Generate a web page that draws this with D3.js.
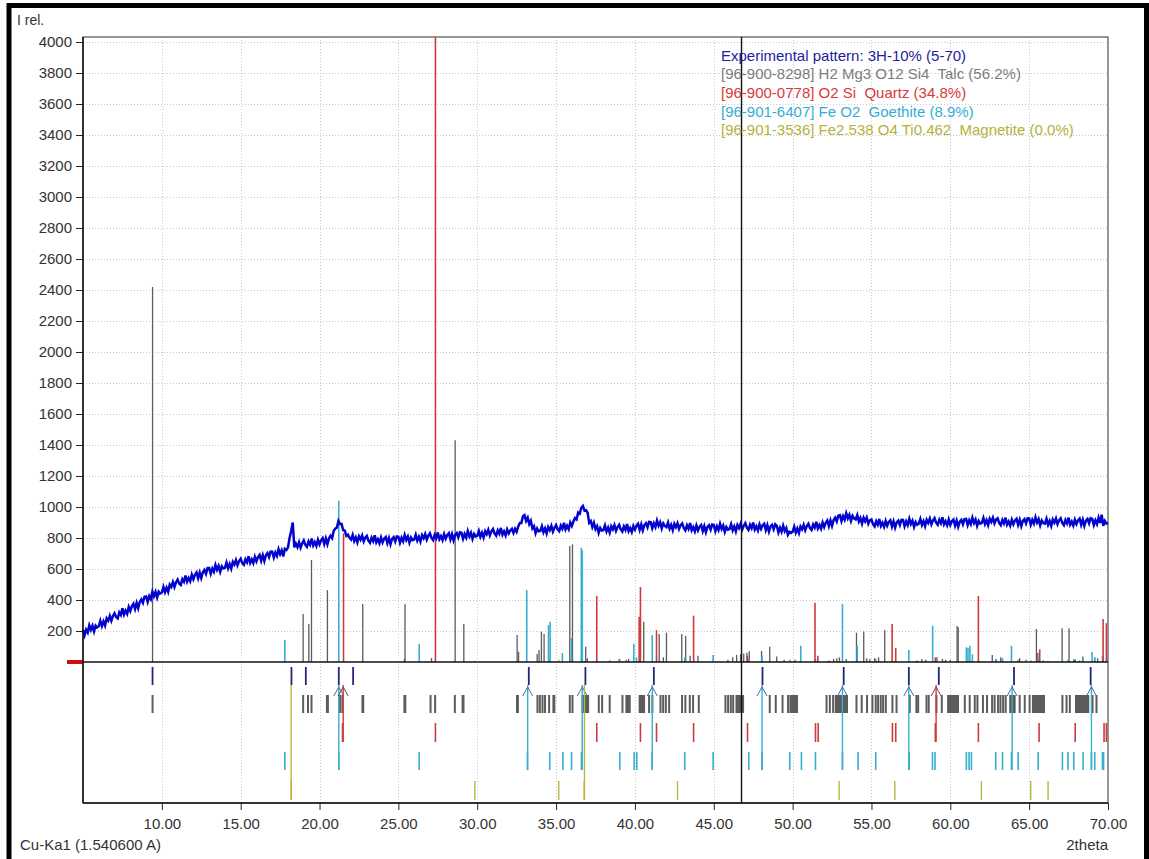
<!DOCTYPE html>
<html>
<head>
<meta charset="utf-8">
<script src="https://d3js.org/d3.v7.min.js"></script>
<style>
body { margin: 0; background: #fff; }
svg text { font-family: "Liberation Sans", Arial, sans-serif; }
</style>
</head>
<body>
<svg id="chart" width="1149" height="859"></svg>
<script>
// experimental pattern, 5.0 .. 70.0 deg 2theta, 0.1 deg step
const expStart = 5.0;
const expStep = 0.1;
const expIntensity = [
208,173,209,190,236,207,234,198,235,223,
230,266,232,262,235,281,266,298,266,296,
314,290,281,320,303,346,306,332,311,355,
329,359,376,342,381,347,387,404,382,421,
423,388,425,406,453,424,452,416,454,442,
448,484,450,480,453,499,484,516,484,514,
532,506,497,534,517,558,518,542,521,563,
534,562,577,540,577,541,579,594,569,606,
606,569,603,582,626,595,620,582,617,603,
607,641,604,632,602,646,629,658,624,651,
666,638,627,662,643,682,639,662,638,679,
650,677,691,653,689,652,689,703,677,713,
712,674,707,685,728,696,720,681,730,723,
740,800,845,900,740,764,741,773,738,766,
784,756,743,778,757,796,752,774,749,789,
759,785,799,761,797,760,798,814,799,847,
860,868,910,890,890,850,848,813,821,801,
790,820,780,804,771,811,790,816,778,802,
813,783,769,802,780,817,772,792,766,804,
772,796,807,767,800,760,794,805,777,810,
808,769,801,778,820,787,810,770,803,786,
790,821,783,808,777,818,799,826,790,815,
830,800,787,820,799,836,792,812,787,825,
795,819,831,791,825,785,820,831,804,837,
834,795,826,803,845,811,834,794,826,810,
814,846,808,834,803,844,825,853,817,843,
858,829,815,849,828,865,821,842,816,855,
830,849,859,832,859,840,875,897,897,940,
948,910,931,890,911,862,876,831,861,843,
845,876,837,862,830,871,851,878,841,866,
884,856,844,879,859,898,856,879,857,900,
878,906,929,920,964,957,995,1007,977,980,
963,898,909,870,898,857,876,833,865,848,
850,881,842,867,835,876,856,883,846,871,
886,856,842,875,853,890,845,865,839,877,
854,879,892,853,888,849,884,896,869,904,
903,863,895,871,913,879,902,862,894,878,
870,900,860,884,851,891,870,896,859,883,
894,864,849,882,859,896,850,870,843,881,
849,873,884,844,877,837,871,882,854,887,
884,844,875,851,892,858,880,839,871,854,
858,889,850,875,843,884,864,891,854,879,
896,866,852,885,863,900,855,875,849,887,
859,882,892,851,883,842,875,885,856,888,
878,836,866,840,879,844,864,821,840,833,
840,873,835,862,832,874,856,885,850,877,
892,864,852,887,867,905,862,884,860,900,
871,898,913,877,914,878,916,931,907,944,
948,909,941,918,960,927,950,910,943,926,
920,948,906,928,893,931,908,932,892,914,
919,889,875,908,886,923,878,898,872,910,
879,903,914,874,907,867,901,912,884,917,
916,876,907,883,924,890,912,871,903,886,
892,923,884,909,877,918,898,925,888,913,
929,899,885,918,896,933,888,908,882,920,
884,908,919,879,912,872,906,917,889,922,
923,883,914,890,931,897,919,878,910,893,
898,929,890,915,883,924,904,931,894,919,
927,897,883,916,894,931,886,906,880,918,
889,913,924,884,917,877,911,922,894,927,
926,886,917,893,934,900,922,881,913,896,
893,924,885,910,878,919,899,926,889,914,
927,897,883,916,894,931,886,906,880,918,
890,914,925,885,918,878,912,923,895,928,
923,883,914,890,931,897,950,878,910,893,
895
];

// reference patterns: stick positions (deg 2theta) and heights
const talcPos = [9.41, 18.96, 19.32, 19.49, 20.5, 22.74, 25.38, 25.42, 27.1, 28.6, 29.15, 32.53, 32.62, 33.8, 33.92, 34.07, 34.24, 35.87, 36.04, 36.88, 36.98, 38.4, 39.0, 39.45, 39.6, 40.56, 41.54, 41.8, 42.0, 42.97, 43.22, 43.5, 44.0, 45.9, 46.2, 46.45, 46.7, 46.9, 47.1, 47.25, 48.03, 48.55, 48.99, 49.46, 50.15, 52.3, 52.6, 52.8, 52.97, 53.4, 54.05, 54.51, 54.7, 54.9, 55.2, 55.45, 55.84, 57.9, 58.2, 58.45, 59.15, 59.5, 59.7, 60.0, 60.43, 60.5, 62.66, 62.9, 63.2, 63.3, 64.4, 64.8, 65.1, 65.46, 65.55, 65.9, 67.09, 67.53, 67.9, 68.2, 68.4, 69.15, 69.35];
const talcInt = [2420, 310, 245, 658, 464, 374, 20, 374, 26, 1430, 245, 174, 66, 52, 77, 196, 180, 748, 759, 99, 25, 10, 19, 15, 20, 260, 180, 30, 189, 180, 168, 40, 40, 15, 30, 45, 50, 55, 60, 70, 71, 99, 35, 15, 15, 10, 20, 25, 30, 20, 189, 196, 25, 20, 25, 30, 206, 10, 20, 15, 30, 20, 15, 15, 232, 225, 45, 20, 30, 20, 25, 15, 10, 213, 60, 10, 217, 217, 15, 10, 35, 30, 25];

const quartzPos = [21.52, 27.35, 37.58, 40.27, 40.35, 41.37, 43.72, 47.14, 51.42, 51.6, 56.31, 56.54, 59.05, 61.78, 65.67, 67.92, 69.69, 69.9];
const quartzInt = [830, 4100, 426, 292, 484, 206, 299, 40, 383, 40, 245, 90, 30, 426, 82, 15, 277, 251];

const goethitePos = [17.8, 21.22, 26.32, 33.14, 34.52, 34.62, 35.4, 35.97, 36.6, 36.66, 39.04, 39.93, 40.1, 41.1, 43.16, 44.96, 47.22, 48.06, 49.82, 50.52, 51.45, 53.16, 54.1, 55.27, 57.37, 58.88, 61.02, 61.12, 61.24, 61.4, 62.88, 63.31, 63.88, 64.3, 65.57, 67.11, 67.46, 67.83, 68.42, 68.99, 69.16, 69.65];
const goethiteInt = [142, 1040, 116, 464, 238, 260, 58, 155, 737, 720, 20, 116, 30, 174, 30, 45, 20, 40, 15, 105, 20, 374, 105, 20, 77, 234, 95, 90, 105, 50, 20, 25, 105, 15, 20, 15, 15, 20, 25, 65, 30, 40];

const magnetitePos = [18.2, 29.85, 35.17, 36.78, 42.7, 52.95, 56.48, 61.97, 65.1, 66.2];
const magnetiteInt = [8, 8, 14, 8, 8, 8, 8, 8, 8, 8];

// marker rows under the axis
const peakMarks = [9.41, 18.22, 19.13, 21.22, 22.13, 33.27, 36.86, 41.2, 48.09, 53.24, 57.37, 59.27, 64.04, 68.9];
const talcMarks = [9.41, 18.96, 19.27, 19.49, 20.47, 20.53, 21.3, 21.45, 22.72, 22.77, 25.38, 25.44, 27.04, 27.33, 28.58, 29.07, 29.13, 32.52, 32.58, 33.82, 33.97, 34.14, 34.3, 34.56, 34.83, 34.89, 35.87, 36.04, 36.67, 36.72, 36.77, 36.82, 36.87, 36.92, 36.97, 37.03, 37.71, 37.92, 38.4, 39.21, 39.46, 39.53, 39.6, 39.67, 40.3, 40.37, 40.44, 40.51, 40.58, 40.9, 41.11, 41.62, 41.79, 41.96, 42.17, 42.99, 43.2, 43.48, 43.69, 44.05, 45.74, 45.91, 46.08, 46.23, 46.44, 46.51, 46.58, 46.65, 46.72, 46.79, 46.86, 48.55, 48.93, 49.36, 49.71, 49.86, 49.93, 50.0, 50.07, 50.14, 50.21, 50.28, 52.15, 52.36, 52.57, 52.74, 52.81, 52.88, 52.95, 53.02, 53.09, 53.16, 53.23, 53.3, 53.37, 53.45, 54.05, 54.38, 54.72, 55.06, 55.27, 55.42, 55.59, 55.74, 55.91, 56.33, 56.59, 57.43, 57.85, 57.96, 58.49, 58.63, 59.12, 59.46, 59.86, 59.93, 60.0, 60.07, 60.14, 60.21, 60.28, 60.35, 60.42, 60.49, 60.92, 61.23, 61.55, 61.72, 62.07, 62.33, 62.65, 62.81, 63.03, 63.18, 63.35, 63.51, 63.8, 63.87, 63.94, 64.01, 64.08, 64.4, 64.72, 65.03, 65.24, 65.31, 65.38, 65.45, 65.52, 65.59, 65.66, 65.73, 65.8, 65.87, 65.94, 67.11, 67.37, 67.58, 67.97, 68.04, 68.11, 68.18, 68.25, 68.32, 68.39, 68.46, 68.53, 68.6, 68.67, 68.75, 69.02, 69.27];
const quartzMarks = [21.46, 27.35, 37.58, 40.35, 41.37, 43.72, 47.14, 51.45, 51.62, 56.33, 56.54, 59.05, 61.78, 65.63, 67.92, 69.75, 69.9];
const goethiteMarks = [17.8, 21.22, 26.32, 33.18, 34.6, 35.43, 35.98, 36.61, 39.04, 39.95, 40.12, 41.09, 43.16, 44.96, 47.22, 48.06, 49.82, 50.56, 51.45, 53.16, 54.15, 55.27, 57.39, 58.87, 59.03, 61.02, 61.19, 61.34, 62.88, 63.31, 63.88, 64.3, 65.57, 67.11, 67.46, 67.83, 68.42, 68.95, 69.16, 69.65, 69.72];
const magnetiteMarks = [18.2, 29.85, 35.17, 36.78, 42.7, 52.95, 56.48, 61.97, 65.1, 66.2];

// lines joining observed peaks to the matched phase row
const linkPos = [18.2, 21.22, 21.5, 33.2, 36.66, 36.8, 41.1, 48.06, 53.16, 57.37, 59.1, 63.92, 68.95];
const linkPhase = ["magnetite", "goethite", "quartz", "goethite", "goethite", "magnetite", "goethite", "goethite", "goethite", "goethite", "quartz", "goethite", "goethite"];

const cursorPos = 46.76;
const xTicks = [10, 15, 20, 25, 30, 35, 40, 45, 50, 55, 60, 65, 70];
const yTicks = d3.range(200, 4001, 200);

const legendLines = [
    "Experimental pattern: 3H-10% (5-70)",
    "[96-900-8298] H2 Mg3 O12 Si4  Talc (56.2%)",
    "[96-900-0778] O2 Si  Quartz (34.8%)",
    "[96-901-6407] Fe O2  Goethite (8.9%)",
    "[96-901-3536] Fe2.538 O4 Ti0.462  Magnetite (0.0%)"
];

const colors = {
    exp: "#0303d0",
    peak: "#25257a",
    talc: "#5c5c5c",
    quartz: "#d03a3a",
    goethite: "#38aed0",
    magnetite: "#b9b840"
};
const legendColors = ["#1c1ca0", "#7c7c7c", "#d63a3a", "#36acd6", "#b2b23a"];

const pLeft = 83, pRight = 1108, pTop = 37, zeroY = 662, pBottom = 803;
// marker rows: [top, bottom]
const rows = {
    peak: [667, 685],
    talc: [695, 713],
    quartz: [723, 742],
    goethite: [752, 770],
    magnetite: [781, 800]
};

const svg = d3.select("#chart");

const x = d3.scaleLinear().domain([5, 70]).range([pLeft, pRight]);
const y = d3.scaleLinear().domain([0, 4000]).range([zeroY, 42]);

// outer frame
svg.append("path")
    .attr("d", `M9,862 L9,5.5 L1146.5,5.5 L1146.5,862`)
    .attr("fill", "none")
    .attr("stroke", "#000")
    .attr("stroke-width", 5);

// grid
const grid = svg.append("g").attr("stroke", "#c9c9c9").attr("stroke-dasharray", "1,2").attr("stroke-width", 1);
grid.selectAll(".vg")
    .data(xTicks.filter(d => d < 70))
    .enter().append("line")
    .attr("x1", d => Math.round(x(d)) + 0.5).attr("x2", d => Math.round(x(d)) + 0.5)
    .attr("y1", pTop).attr("y2", pBottom);
grid.selectAll(".hg")
    .data(yTicks)
    .enter().append("line")
    .attr("x1", pLeft).attr("x2", pRight)
    .attr("y1", d => Math.round(y(d)) + 0.5).attr("y2", d => Math.round(y(d)) + 0.5);

// plot frame
svg.append("rect")
    .attr("x", pLeft).attr("y", pTop)
    .attr("width", pRight - pLeft).attr("height", pBottom - pTop)
    .attr("fill", "none").attr("stroke", "#505050").attr("stroke-width", 1.2);

// sticks above the axis
function sticks(pos, vals, color, width) {
    svg.append("g").selectAll("line")
        .data(pos.map((p, i) => ({ p: p, v: vals[i] })))
        .enter().append("line")
        .attr("x1", d => x(d.p)).attr("x2", d => x(d.p))
        .attr("y1", zeroY).attr("y2", d => Math.max(pTop, y(d.v)))
        .attr("stroke", color).attr("stroke-width", width);
}
sticks(talcPos, talcInt, colors.talc, 1.3);
sticks(goethitePos, goethiteInt, colors.goethite, 1.6);
sticks(quartzPos, quartzInt, colors.quartz, 1.6);
sticks(magnetitePos, magnetiteInt, colors.magnetite, 1.3);

// experimental pattern
const line = d3.line()
    .x((d, i) => x(expStart + i * expStep))
    .y(d => y(d));
svg.append("path")
    .datum(expIntensity)
    .attr("d", line)
    .attr("fill", "none")
    .attr("stroke", colors.exp)
    .attr("stroke-width", 2.5)
    .attr("stroke-linejoin", "miter");

// zero line and its red marker
svg.append("line")
    .attr("x1", pLeft).attr("x2", pRight)
    .attr("y1", zeroY).attr("y2", zeroY)
    .attr("stroke", "#111").attr("stroke-width", 1.5);
svg.append("line")
    .attr("x1", 67).attr("x2", pLeft)
    .attr("y1", zeroY).attr("y2", zeroY)
    .attr("stroke", "#cc1010").attr("stroke-width", 4);

// marker rows
function marks(pos, key, color, width) {
    svg.append("g").selectAll("line")
        .data(pos)
        .enter().append("line")
        .attr("x1", d => x(d)).attr("x2", d => x(d))
        .attr("y1", rows[key][0]).attr("y2", rows[key][1])
        .attr("stroke", color).attr("stroke-width", width);
}
marks(peakMarks, "peak", colors.peak, 1.8);
marks(talcMarks, "talc", colors.talc, 2);
marks(quartzMarks, "quartz", colors.quartz, 1.6);
marks(goethiteMarks, "goethite", colors.goethite, 1.6);
marks(magnetiteMarks, "magnetite", colors.magnetite, 1.4);

// link lines
const links = svg.append("g").attr("fill", "none");
linkPos.forEach((p, i) => {
    const ph = linkPhase[i];
    const cx = x(p);
    links.append("line")
        .attr("x1", cx).attr("x2", cx)
        .attr("y1", rows.peak[1]).attr("y2", rows[ph][1])
        .attr("stroke", colors[ph]).attr("stroke-width", 1.4);
    if (ph !== "magnetite") {
        links.append("path")
            .attr("d", `M${cx - 5},${rows.talc[0] + 1} L${cx},${rows.peak[1] + 2} L${cx + 5},${rows.talc[0] + 1}`)
            .attr("stroke", ph === "quartz" ? "#7a4040" : "#3a6fa8").attr("stroke-width", 1);
    }
});

// cursor line
svg.append("line")
    .attr("x1", x(cursorPos)).attr("x2", x(cursorPos))
    .attr("y1", pTop).attr("y2", pBottom)
    .attr("stroke", "#111").attr("stroke-width", 1.4);

// y axis
const yAxis = d3.axisLeft(y).tickValues(yTicks).tickSize(7).tickPadding(4).tickFormat(d3.format("d"));
const gy = svg.append("g").attr("transform", `translate(${pLeft},0)`).call(yAxis);
gy.select(".domain").remove();
gy.selectAll(".tick line").attr("stroke", "#222");
gy.selectAll(".tick text").attr("font-size", 15).attr("fill", "#333").attr("font-family", "Liberation Sans, Arial, sans-serif");
svg.append("line").attr("x1", pLeft).attr("x2", pLeft).attr("y1", pTop).attr("y2", pBottom)
    .attr("stroke", "#111").attr("stroke-width", 1.5);

// x axis
const xAxis = d3.axisBottom(x).tickValues(xTicks).tickSize(7).tickPadding(8).tickFormat(d3.format(".2f"));
const gx = svg.append("g").attr("transform", `translate(0,${pBottom})`).call(xAxis);
gx.select(".domain").remove();
gx.selectAll(".tick line").attr("stroke", "#222");
gx.selectAll(".tick text").attr("font-size", 15).attr("fill", "#333").attr("font-family", "Liberation Sans, Arial, sans-serif");
svg.append("line").attr("x1", pLeft).attr("x2", pRight).attr("y1", pBottom).attr("y2", pBottom)
    .attr("stroke", "#111").attr("stroke-width", 1.5);

// labels
svg.append("text").attr("x", 17).attr("y", 25).attr("font-size", 14).attr("fill", "#333").text("I rel.");
svg.append("text").attr("x", 20).attr("y", 850).attr("font-size", 15).attr("fill", "#333").text("Cu-Ka1 (1.540600 A)");
svg.append("text").attr("x", pRight).attr("y", 850).attr("font-size", 15).attr("fill", "#333")
    .attr("text-anchor", "end").text("2theta");

// legend
svg.append("g").selectAll("text")
    .data(legendLines)
    .enter().append("text")
    .attr("x", 721)
    .attr("y", (d, i) => 60.5 + i * 18.7)
    .attr("font-size", 15)
    .attr("fill", (d, i) => legendColors[i])
    .style("white-space", "pre")
    .text(d => d);
</script>
</body>
</html>
